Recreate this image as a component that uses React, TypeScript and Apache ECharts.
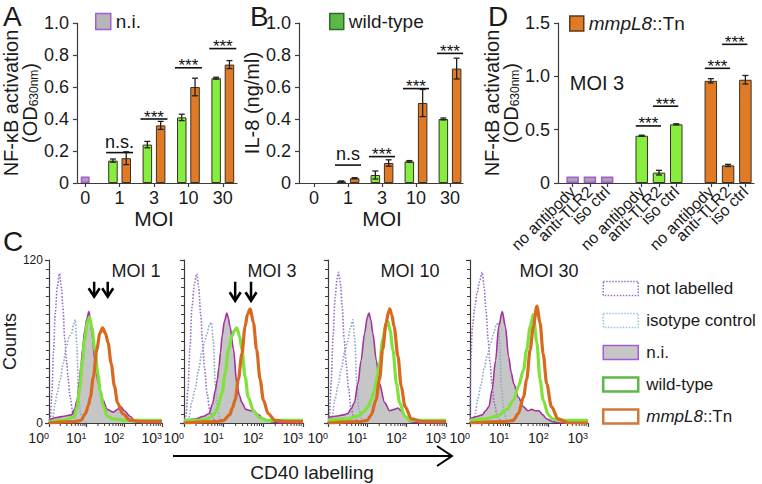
import { useEffect, useRef } from 'react';
import * as echarts from 'echarts';

const FONT = '"Liberation Sans", Arial, Helvetica, sans-serif';
const TXT = '#1a1a1a';
const AX = '#3c3c3c';

// ---------- Panel A / B categories ----------
const MOI_CATS = ['0', '1', '3', '10', '30'];

// Panel A: NF-kB activation (OD630nm)
const NI_A = [0.04, null, null, null, null];
const WT_A = [null, 0.14, 0.24, 0.41, 0.655];
const WT_A_ERR = [null, 0.01, 0.02, 0.02, 0.006];
const MUT_A = [null, 0.155, 0.36, 0.6, 0.74];
const MUT_A_ERR = [null, 0.04, 0.025, 0.055, 0.025];
const SIG_A_CAT = [1, 2, 3, 4];
const SIG_A_Y = [0.19, 0.4, 0.72, 0.84];
const SIG_A_LABEL = ['n.s.', '***', '***', '***'];

// Panel B: IL-8 (ng/ml)
const NI_B = [0, null, null, null, null];
const WT_B = [null, 0.01, 0.05, 0.135, 0.4];
const WT_B_ERR = [null, 0.003, 0.025, 0.005, 0.006];
const MUT_B = [null, 0.03, 0.125, 0.5, 0.715];
const MUT_B_ERR = [null, 0.003, 0.02, 0.085, 0.065];
const SIG_B_CAT = [1, 2, 3, 4];
const SIG_B_Y = [0.112, 0.165, 0.59, 0.81];
const SIG_B_LABEL = ['n.s', '***', '***', '***'];

// Panel D: MOI 3 with antibodies
const D_CATS = ['no antibody', 'anti-TLR2', 'iso ctrl', '', 'no antibody', 'anti-TLR2', 'iso ctrl', '', 'no antibody', 'anti-TLR2', 'iso ctrl'];
const NI_D = [0.06, 0.06, 0.06, null, null, null, null, null, null, null, null];
const WT_D = [null, null, null, null, 0.443, 0.097, 0.55, null, null, null, null];
const WT_D_ERR = [null, null, null, null, 0.005, 0.022, 0.005, null, null, null, null];
const MUT_D = [null, null, null, null, null, null, null, null, 0.958, 0.165, 0.968];
const MUT_D_ERR = [null, null, null, null, null, null, null, null, 0.02, 0.01, 0.04];
const SIG_D_FROM = [4, 5, 8, 9];
const SIG_D_TO = [5, 6, 9, 10];
const SIG_D_Y = [0.535, 0.72, 1.075, 1.3];
const SIG_D_LABEL = ['***', '***', '***', '***'];

// ---------- Panel C histograms: [log10(CD40), counts] ----------
const NOT_LAB_1 = [[0, 0], [0.04, 4], [0.08, 22], [0.12, 52], [0.17, 82], [0.22, 100], [0.28, 110], [0.33, 100], [0.37, 86], [0.42, 62], [0.47, 45], [0.51, 33], [0.56, 19], [0.64, 7], [0.72, 2], [0.85, 0]];
const ISO_1 = [[0.05, 0], [0.1, 3], [0.16, 14], [0.22, 22], [0.3, 32], [0.38, 44], [0.46, 56], [0.54, 64], [0.6, 66], [0.65, 72], [0.7, 76], [0.74, 58], [0.78, 25], [0.83, 8], [0.9, 2], [1.0, 0]];
const NI_H1 = [[0, 2], [0.2, 4], [0.4, 5], [0.6, 6], [0.68, 10], [0.75, 17], [0.8, 29], [0.85, 42], [0.89, 54], [0.95, 68], [1.0, 76], [1.06, 82], [1.1, 76], [1.14, 66], [1.22, 46], [1.31, 29], [1.43, 17], [1.55, 10], [1.7, 8], [1.82, 10], [1.91, 12], [2.0, 9], [2.15, 5], [2.3, 1], [2.5, 0], [3, 0]];
const WT_H1 = [[0, 1], [0.4, 2], [0.6, 4], [0.68, 5], [0.75, 12], [0.82, 26], [0.89, 46], [0.95, 62], [1.02, 74], [1.08, 78], [1.14, 70], [1.22, 54], [1.3, 36], [1.36, 24], [1.45, 12], [1.55, 5], [1.7, 3], [2.0, 2], [3.0, 2]];
const MUT_H1 = [[0, 0], [0.7, 1], [0.85, 2], [0.97, 7], [1.05, 13], [1.1, 19], [1.18, 34], [1.27, 54], [1.35, 66], [1.425, 70], [1.5, 66], [1.57, 59], [1.65, 44], [1.74, 27], [1.82, 15], [1.95, 7], [2.16, 2], [2.5, 1], [3, 1]];

const NOT_LAB_2 = [[0, 0], [0.05, 5], [0.1, 25], [0.15, 55], [0.2, 85], [0.26, 102], [0.32, 110], [0.37, 100], [0.42, 80], [0.47, 58], [0.52, 40], [0.58, 22], [0.65, 9], [0.73, 3], [0.85, 0]];
const ISO_2 = [[0.05, 0], [0.12, 4], [0.2, 16], [0.28, 25], [0.36, 38], [0.45, 52], [0.52, 60], [0.58, 66], [0.64, 72], [0.69, 74], [0.74, 60], [0.79, 28], [0.85, 9], [0.92, 2], [1.0, 0]];
const NI_H2 = [[0, 2], [0.3, 3], [0.5, 5], [0.63, 7], [0.72, 14], [0.79, 24], [0.84, 32], [0.88, 41], [0.92, 52], [0.96, 64], [1.02, 75], [1.08, 81], [1.12, 77], [1.16, 71], [1.25, 54], [1.33, 29], [1.4, 20], [1.46, 15], [1.56, 10], [1.68, 9], [1.75, 9], [1.88, 6], [2.0, 3], [2.2, 1], [2.4, 0], [3, 0]];
const WT_H2 = [[0, 2], [0.4, 2], [0.6, 3], [0.75, 6], [0.83, 10], [0.96, 22], [1.04, 37], [1.12, 54], [1.21, 64], [1.27, 68], [1.33, 70], [1.4, 64], [1.46, 54], [1.54, 34], [1.62, 19], [1.75, 9], [1.9, 4], [2.1, 2], [3, 2]];
const MUT_H2 = [[0, 0], [0.8, 1], [1.0, 2], [1.15, 6], [1.22, 11], [1.29, 17], [1.37, 32], [1.46, 51], [1.54, 71], [1.6, 80], [1.67, 84], [1.75, 74], [1.83, 54], [1.92, 32], [2.0, 17], [2.12, 7], [2.29, 2], [2.6, 1], [3, 1]];

const NOT_LAB_3 = [[0, 0], [0.04, 6], [0.08, 30], [0.13, 65], [0.18, 92], [0.23, 106], [0.27, 111], [0.32, 102], [0.36, 86], [0.41, 62], [0.46, 44], [0.52, 26], [0.58, 12], [0.66, 4], [0.78, 0]];
const ISO_3 = [[0.05, 0], [0.1, 4], [0.18, 18], [0.26, 28], [0.34, 40], [0.42, 52], [0.5, 60], [0.57, 70], [0.63, 76], [0.68, 62], [0.73, 30], [0.79, 10], [0.86, 3], [0.95, 0]];
const NI_H3 = [[0, 4], [0.2, 5], [0.4, 6], [0.5, 7], [0.6, 11], [0.67, 15], [0.76, 29], [0.84, 46], [0.93, 66], [1.0, 78], [1.04, 81], [1.09, 76], [1.14, 66], [1.23, 46], [1.31, 29], [1.44, 15], [1.57, 9], [1.68, 10], [1.78, 11], [1.86, 9], [1.95, 5], [2.1, 1], [2.3, 0], [3, 0]];
const WT_H3 = [[0, 2], [0.5, 3], [0.76, 5], [0.9, 8], [1.02, 12], [1.1, 17], [1.18, 24], [1.25, 34], [1.31, 44], [1.39, 61], [1.46, 71], [1.52, 75], [1.58, 68], [1.65, 54], [1.74, 29], [1.82, 15], [1.95, 5], [2.1, 2], [3, 2]];
const MUT_H3 = [[0, 0], [0.8, 1], [1.0, 2], [1.1, 6], [1.22, 17], [1.31, 32], [1.39, 54], [1.48, 74], [1.54, 82], [1.57, 84], [1.62, 80], [1.68, 71], [1.78, 49], [1.86, 27], [1.96, 12], [2.12, 3], [2.4, 1], [3, 1]];

const NOT_LAB_4 = [[0, 0], [0.02, 45], [0.06, 70], [0.12, 85], [0.18, 96], [0.24, 104], [0.31, 111], [0.36, 100], [0.41, 82], [0.46, 62], [0.51, 44], [0.56, 28], [0.62, 14], [0.7, 4], [0.8, 0]];
const ISO_4 = [[0.05, 0], [0.12, 5], [0.2, 18], [0.28, 28], [0.36, 40], [0.44, 50], [0.52, 58], [0.6, 66], [0.67, 72], [0.72, 74], [0.76, 56], [0.8, 26], [0.86, 8], [0.94, 2], [1.0, 0]];
const NI_H4 = [[0, 3], [0.2, 5], [0.31, 6], [0.4, 9], [0.48, 12], [0.56, 24], [0.65, 46], [0.73, 71], [0.82, 82], [0.9, 71], [0.98, 49], [1.05, 37], [1.11, 29], [1.23, 19], [1.36, 12], [1.47, 9], [1.57, 10], [1.66, 9], [1.75, 9], [1.85, 6], [1.95, 3], [2.1, 1], [2.3, 0], [3, 0]];
const WT_H4 = [[0, 2], [0.4, 3], [0.69, 5], [0.94, 10], [1.11, 17], [1.23, 27], [1.36, 39], [1.44, 54], [1.53, 71], [1.61, 80], [1.7, 59], [1.78, 32], [1.86, 17], [1.99, 6], [2.1, 3], [2.3, 2], [3, 2]];
const MUT_H4 = [[0, 0], [0.9, 1], [1.1, 2], [1.23, 7], [1.36, 19], [1.44, 32], [1.53, 54], [1.61, 71], [1.7, 86], [1.78, 74], [1.86, 51], [1.95, 29], [2.07, 12], [2.24, 3], [2.5, 0], [3, 0]];

// peak arrows: [log10 x, top count, tip count]
const ARROWS_P1 = [[1.2, 104, 93], [1.56, 104, 93]];
const ARROWS_P2 = [[1.29, 104, 90], [1.69, 104, 90]];

const MOI_PANEL_LABELS = ['MOI 1', 'MOI 3', 'MOI 10', 'MOI 30'];
const LOG_MINOR_TICKS = [2, 3, 4, 5, 6, 7, 8, 9, 20, 30, 40, 50, 60, 70, 80, 90, 200, 300, 400, 500, 600, 700, 800, 900];

// ---------- styles ----------
const GREEN = '#86ee3e';
const ORANGE = '#e07a24';
const GRAY_BAR = '#a6a6a6';
const PURPLE = '#a75ad8';
const BAR_BORDER = '#3a3224';

const BW = 9.5;
const BGAP = 0.4;
const PAIR_OFF = (BW * (1 + BGAP)) / 2;

const toXY = (arr: number[][]) => arr.map(([e, c]) => [Math.pow(10, e), c]);

const errData = (vals: (number | null)[], errs: (number | null)[]) =>
  vals.map((v, i) => (v == null || errs[i] == null ? null : [i, v, errs[i]])).filter((d) => d !== null);

const errSeries = (xi: number, yi: number, vals: (number | null)[], errs: (number | null)[], offset: number) => ({
  type: 'custom',
  xAxisIndex: xi,
  yAxisIndex: yi,
  silent: true,
  z: 5,
  data: errData(vals, errs),
  renderItem: (_p: any, api: any) => {
    const cat = api.value(0);
    const mean = api.value(1);
    const err = api.value(2);
    const top = api.coord([cat, mean + err]);
    const bot = api.coord([cat, mean - err]);
    const x = top[0] + offset;
    const st = { stroke: '#202020', lineWidth: 1.3 };
    const cap = 3;
    return {
      type: 'group',
      children: [
        { type: 'line', shape: { x1: x, y1: top[1], x2: x, y2: bot[1] }, style: st },
        { type: 'line', shape: { x1: x - cap, y1: top[1], x2: x + cap, y2: top[1] }, style: st },
        { type: 'line', shape: { x1: x - cap, y1: bot[1], x2: x + cap, y2: bot[1] }, style: st },
      ],
    };
  },
});

const sigSeries = (xi: number, yi: number, from: number[], to: number[], ys: number[], labels: string[], padL: number, padR: number) => ({
  type: 'custom',
  xAxisIndex: xi,
  yAxisIndex: yi,
  silent: true,
  z: 6,
  data: from.map((f, i) => [f, to[i], ys[i]]),
  renderItem: (params: any, api: any) => {
    const a = api.coord([api.value(0), api.value(2)]);
    const b = api.coord([api.value(1), api.value(2)]);
    const lab = labels[params.dataIndex];
    const star = lab === '***';
    const x1 = a[0] - padL;
    const x2 = b[0] + padR;
    return {
      type: 'group',
      children: [
        { type: 'line', shape: { x1, y1: a[1], x2, y2: a[1] }, style: { stroke: '#111', lineWidth: 1.6 } },
        {
          type: 'text',
          x: (x1 + x2) / 2,
          y: a[1] - (star ? 2 : 11),
          style: { text: lab, fill: '#111', fontSize: star ? 17 : 18, fontFamily: FONT, align: 'center', verticalAlign: 'middle' },
        },
      ],
    };
  },
});

const rich2Line = {
  fontSize: 20,
  lineHeight: 19,
  color: TXT,
  fontFamily: FONT,
  rich: {
    p: { fontSize: 20, lineHeight: 19, color: TXT, fontFamily: FONT },
    s: { fontSize: 12, lineHeight: 12, verticalAlign: 'bottom', color: TXT, fontFamily: FONT },
  },
};

const valueY = (gi: number, max: number, interval: number, name: string, nameGap: number, nameStyle: any) => ({
  type: 'value',
  gridIndex: gi,
  min: 0,
  max,
  interval,
  axisLine: { show: true, lineStyle: { color: AX, width: 1.2 } },
  axisTick: { show: true, length: 4, lineStyle: { color: AX, width: 1.2 } },
  axisLabel: { fontSize: 18, color: TXT, fontFamily: FONT, margin: 8, formatter: (v: number) => (v === 0 ? '0' : v.toFixed(1)) },
  splitLine: { show: false },
  name,
  nameLocation: 'middle',
  nameRotate: 90,
  nameGap,
  nameTextStyle: nameStyle,
});

const hiddenY = (gi: number, max: number) => ({ type: 'value', gridIndex: gi, min: 0, max, show: false, splitLine: { show: false } });

const baseX = (gi: number) => ({
  type: 'value',
  gridIndex: gi,
  min: 0,
  max: 1,
  axisLine: { show: true, onZero: false, lineStyle: { color: AX, width: 1.2 } },
  axisTick: { show: false },
  axisLabel: { show: false },
  splitLine: { show: false },
});

const moiX = (gi: number) => ({
  type: 'category',
  gridIndex: gi,
  data: MOI_CATS,
  axisLine: { show: false },
  axisTick: { show: true, alignWithLabel: true, length: 4, lineStyle: { color: AX, width: 1.2 } },
  axisLabel: { fontSize: 18, color: TXT, fontFamily: FONT, margin: 6 },
  name: 'MOI',
  nameLocation: 'middle',
  nameGap: 18,
  nameTextStyle: { fontSize: 21, color: TXT, fontFamily: FONT },
});

const hiddenCatX = (gi: number, data: string[]) => ({ type: 'category', gridIndex: gi, data, show: false });

const HIST_GRIDS = [
  { left: 45, top: 260, width: 117, height: 163 },
  { left: 184, top: 260, width: 119, height: 163 },
  { left: 328, top: 260, width: 118, height: 163 },
  { left: 470, top: 260, width: 118, height: 163 },
];

const HIST_DATA = [
  [NOT_LAB_1, ISO_1, NI_H1, WT_H1, MUT_H1],
  [NOT_LAB_2, ISO_2, NI_H2, WT_H2, MUT_H2],
  [NOT_LAB_3, ISO_3, NI_H3, WT_H3, MUT_H3],
  [NOT_LAB_4, ISO_4, NI_H4, WT_H4, MUT_H4],
];
const HIST_ARROWS = [ARROWS_P1, ARROWS_P2, [], []];

const arrowSeries = (xi: number, yi: number, arr: number[][]) => ({
  type: 'custom',
  xAxisIndex: xi,
  yAxisIndex: yi,
  silent: true,
  z: 10,
  clip: false,
  data: arr.map(([e, t, b]) => [Math.pow(10, e), t, b]),
  renderItem: (_p: any, api: any) => {
    const top = api.coord([api.value(0), api.value(1)]);
    const tip = api.coord([api.value(0), api.value(2)]);
    const x = top[0];
    return {
      type: 'group',
      children: [
        { type: 'line', shape: { x1: x, y1: top[1], x2: x, y2: tip[1] - 1 }, style: { stroke: '#000', lineWidth: 2.5 } },
        { type: 'polyline', shape: { points: [[x - 5.5, tip[1] - 8.5], [x, tip[1]], [x + 5.5, tip[1] - 8.5]] }, style: { stroke: '#000', lineWidth: 2.6, fill: null } },
      ],
    };
  },
});

const minorTickSeries = (xi: number, yi: number) => ({
  type: 'custom',
  xAxisIndex: xi,
  yAxisIndex: yi,
  silent: true,
  clip: false,
  data: LOG_MINOR_TICKS.map((v) => [v, 0]),
  renderItem: (_p: any, api: any) => {
    const p = api.coord([api.value(0), 0]);
    return { type: 'line', shape: { x1: p[0], y1: p[1], x2: p[0], y2: p[1] + 3 }, style: { stroke: AX, lineWidth: 1 } };
  },
});

function buildOption() {
  const grid: any[] = [
    { left: 76, top: 23, width: 161, height: 160 },
    { left: 68, top: 23, width: 172, height: 160 },
    { left: 299, top: 23, width: 164, height: 160 },
    { left: 297, top: 23, width: 170, height: 160 },
    { left: 558, top: 23, width: 196, height: 160 },
    { left: 564, top: 23, width: 190, height: 160 },
    ...HIST_GRIDS,
  ];

  const xAxis: any[] = [
    baseX(0), // 0
    moiX(1), // 1
    hiddenCatX(1, MOI_CATS), // 2
    baseX(2), // 3
    moiX(3), // 4
    hiddenCatX(3, MOI_CATS), // 5
    baseX(4), // 6
    {
      // 7
      type: 'category',
      gridIndex: 5,
      data: D_CATS,
      axisLine: { show: false },
      axisTick: { show: true, alignWithLabel: true, length: 4, interval: (_i: number, v: string) => v !== '', lineStyle: { color: AX, width: 1.2 } },
      axisLabel: { interval: 0, rotate: 45, fontSize: 16, color: TXT, fontFamily: FONT, margin: 6 },
    },
  ];
  const yAxis: any[] = [
    valueY(0, 1, 0.2, 'NF-κB activation\n{p|(OD}{s|630nm}{p|)}', 33, rich2Line),
    hiddenY(1, 1),
    valueY(2, 1, 0.2, 'IL-8 (ng/ml)', 29, { fontSize: 20, color: TXT, fontFamily: FONT }),
    hiddenY(3, 1),
    valueY(4, 1.5, 0.5, 'NF-κB activation\n{p|(OD}{s|630nm}{p|)}', 26, rich2Line),
    hiddenY(5, 1.5),
  ];

  HIST_GRIDS.forEach((_g, k) => {
    xAxis.push({
      type: 'log',
      logBase: 10,
      gridIndex: 6 + k,
      min: 1,
      max: 1000,
      axisLine: { show: true, lineStyle: { color: AX, width: 1.2 } },
      axisTick: { show: true, length: 4, lineStyle: { color: AX, width: 1.2 } },
      splitLine: { show: false },
      axisLabel: {
        align: 'right',
        margin: 8,
        color: TXT,
        fontFamily: FONT,
        fontSize: 14,
        formatter: (v: number) => '10{s|' + Math.round(Math.log10(v)) + '}',
        rich: { s: { fontSize: 9, lineHeight: 9, verticalAlign: 'top', color: TXT, fontFamily: FONT } },
      },
    });
    yAxis.push({
      type: 'value',
      gridIndex: 6 + k,
      min: 0,
      max: 120,
      interval: 120,
      axisLine: { show: true, lineStyle: { color: AX, width: 1.2 } },
      axisTick: { show: true, length: 4, lineStyle: { color: AX, width: 1.2 } },
      minorTick: { show: true, splitNumber: 18, length: 3, lineStyle: { color: AX, width: 1 } },
      splitLine: { show: false },
      axisLabel: { show: k === 0, fontSize: 12, color: TXT, fontFamily: FONT, margin: 6 },
      ...(k === 0
        ? { name: 'Counts', nameLocation: 'middle', nameRotate: 90, nameGap: 17, nameTextStyle: { fontSize: 18, color: TXT, fontFamily: FONT } }
        : {}),
    });
  });

  const niStyle = { color: GRAY_BAR, borderColor: PURPLE, borderWidth: 1.5 };
  const wtStyle = { color: GREEN, borderColor: BAR_BORDER, borderWidth: 1 };
  const mutStyle = { color: ORANGE, borderColor: BAR_BORDER, borderWidth: 1 };

  const series: any[] = [
    // Panel A
    { name: 'n.i.', type: 'bar', xAxisIndex: 2, yAxisIndex: 1, data: NI_A, barWidth: 9, itemStyle: niStyle },
    { name: 'wild-type', type: 'bar', xAxisIndex: 1, yAxisIndex: 1, data: WT_A, barWidth: BW, barGap: BGAP * 100 + '%', itemStyle: wtStyle },
    { name: 'mmpL8::Tn', type: 'bar', xAxisIndex: 1, yAxisIndex: 1, data: MUT_A, barWidth: BW, barGap: BGAP * 100 + '%', itemStyle: mutStyle },
    errSeries(1, 1, WT_A, WT_A_ERR, -PAIR_OFF),
    errSeries(1, 1, MUT_A, MUT_A_ERR, PAIR_OFF),
    sigSeries(1, 1, SIG_A_CAT, SIG_A_CAT, SIG_A_Y, SIG_A_LABEL, 13.5, 13.5),
    // Panel B
    { name: 'n.i.', type: 'bar', xAxisIndex: 5, yAxisIndex: 3, data: NI_B, barWidth: 9, itemStyle: { ...niStyle, borderWidth: 0 } },
    { name: 'wild-type', type: 'bar', xAxisIndex: 4, yAxisIndex: 3, data: WT_B, barWidth: BW, barGap: BGAP * 100 + '%', itemStyle: wtStyle },
    { name: 'mmpL8::Tn', type: 'bar', xAxisIndex: 4, yAxisIndex: 3, data: MUT_B, barWidth: BW, barGap: BGAP * 100 + '%', itemStyle: mutStyle },
    errSeries(4, 3, WT_B, WT_B_ERR, -PAIR_OFF),
    errSeries(4, 3, MUT_B, MUT_B_ERR, PAIR_OFF),
    sigSeries(4, 3, SIG_B_CAT, SIG_B_CAT, SIG_B_Y, SIG_B_LABEL, 13, 13),
    // Panel D
    { name: 'n.i.', type: 'bar', stack: 'd', xAxisIndex: 7, yAxisIndex: 5, data: NI_D, barWidth: 12.5, itemStyle: niStyle },
    { name: 'wild-type', type: 'bar', stack: 'd', xAxisIndex: 7, yAxisIndex: 5, data: WT_D, barWidth: 12.5, itemStyle: wtStyle },
    { name: 'mmpL8::Tn', type: 'bar', stack: 'd', xAxisIndex: 7, yAxisIndex: 5, data: MUT_D, barWidth: 12.5, itemStyle: mutStyle },
    errSeries(7, 5, WT_D, WT_D_ERR, 0),
    errSeries(7, 5, MUT_D, MUT_D_ERR, 0),
    sigSeries(7, 5, SIG_D_FROM, SIG_D_TO, SIG_D_Y, SIG_D_LABEL, 6, 2),
  ];

  HIST_DATA.forEach((set, k) => {
    const xi = 8 + k;
    const yi = 6 + k;
    const common = { type: 'line', xAxisIndex: xi, yAxisIndex: yi, showSymbol: false, smooth: 0.3, smoothMonotone: 'x', silent: true };
    series.push({ ...common, name: 'not labelled', data: toXY(set[0]), lineStyle: { color: '#9a6fc8', width: 1.6, type: 'dotted' }, itemStyle: { color: '#9a6fc8' } });
    series.push({ ...common, name: 'isotype control', data: toXY(set[1]), lineStyle: { color: '#8fa9c4', width: 1.6, type: 'dotted' }, itemStyle: { color: '#8fa9c4' } });
    series.push({ ...common, name: 'n.i.', data: toXY(set[2]), lineStyle: { color: '#a2339e', width: 1.6 }, areaStyle: { color: '#c6c6c6', opacity: 1 }, itemStyle: { color: '#a2339e' } });
    series.push({ ...common, name: 'wild-type', data: toXY(set[3]), lineStyle: { color: '#7fe23c', width: 3.2 }, itemStyle: { color: '#7fe23c' } });
    series.push({ ...common, name: 'mmpL8::Tn', data: toXY(set[4]), lineStyle: { color: '#d8691f', width: 3.2 }, itemStyle: { color: '#d8691f' } });
    series.push(minorTickSeries(xi, yi));
    if (HIST_ARROWS[k].length) series.push(arrowSeries(xi, yi, HIST_ARROWS[k]));
  });

  const legendText = {
    color: TXT,
    fontFamily: FONT,
    fontSize: 19,
    rich: { i: { fontStyle: 'italic', fontSize: 19, color: TXT, fontFamily: FONT } },
  };
  const fmt = (n: string) => (n === 'mmpL8::Tn' ? '{i|mmpL8}::Tn' : n);

  const legend: any[] = [
    {
      left: 90, top: 7, itemWidth: 15, itemHeight: 16, selectedMode: false, textStyle: legendText, formatter: fmt,
      data: [{ name: 'n.i.', icon: 'rect', itemStyle: { color: '#b6b6b6', borderColor: PURPLE, borderWidth: 1.5 } }],
    },
    {
      left: 324, top: 7, itemWidth: 14, itemHeight: 16, selectedMode: false, textStyle: legendText, formatter: fmt,
      data: [{ name: 'wild-type', icon: 'rect', itemStyle: { color: '#5cb848', borderColor: '#2c6b28', borderWidth: 1.5 } }],
    },
    {
      left: 564, top: 9, itemWidth: 14, itemHeight: 15, selectedMode: false, textStyle: legendText, formatter: fmt,
      data: [{ name: 'mmpL8::Tn', icon: 'rect', itemStyle: { color: ORANGE, borderColor: '#5a3a1a', borderWidth: 1.5 } }],
    },
    {
      left: 597, top: 275, orient: 'vertical', itemWidth: 35, itemHeight: 14, itemGap: 15, selectedMode: false, formatter: fmt,
      textStyle: { color: TXT, fontFamily: FONT, fontSize: 17, padding: [0, 0, 0, 3], rich: { i: { fontStyle: 'italic', fontSize: 17, color: TXT, fontFamily: FONT } } },
      data: [
        { name: 'not labelled', icon: 'rect', itemStyle: { color: '#ffffff', borderColor: '#9a6fc8', borderWidth: 1.5, borderType: 'dotted' } },
        { name: 'isotype control', icon: 'rect', itemStyle: { color: '#ffffff', borderColor: '#8ec8e0', borderWidth: 1.5, borderType: 'dotted' } },
        { name: 'n.i.', icon: 'rect', itemStyle: { color: '#c6c6c6', borderColor: PURPLE, borderWidth: 1.5 } },
        { name: 'wild-type', icon: 'rect', itemStyle: { color: '#ffffff', borderColor: '#5cb848', borderWidth: 2.5 } },
        { name: 'mmpL8::Tn', icon: 'rect', itemStyle: { color: '#ffffff', borderColor: '#d0773a', borderWidth: 2.5 } },
      ],
    },
  ];

  const letter = (t: string, x: number, y: number) => ({
    type: 'text', x, y, silent: true,
    style: { text: t, fill: TXT, fontSize: 28, fontFamily: FONT, align: 'left', verticalAlign: 'middle' },
  });
  const label = (t: string, x: number, y: number, size: number) => ({
    type: 'text', x, y, silent: true,
    style: { text: t, fill: TXT, fontSize: size, fontFamily: FONT, align: 'center', verticalAlign: 'middle' },
  });
  const moiCenters = [136, 272, 410, 549];

  const graphic: any[] = [
    letter('A', 3, 16),
    letter('B', 250, 16),
    letter('D', 488, 16),
    letter('C', 3, 241),
    label('MOI 3', 597, 83, 20),
    ...MOI_PANEL_LABELS.map((t, i) => label(t, moiCenters[i], 271, 18)),
    { type: 'line', silent: true, shape: { x1: 173, y1: 456, x2: 451, y2: 456 }, style: { stroke: '#000', lineWidth: 2 } },
    { type: 'polyline', silent: true, shape: { points: [[437, 446], [452, 456], [437, 466]] }, style: { stroke: '#000', lineWidth: 2, fill: null } },
    label('CD40 labelling', 312, 472, 19),
  ];

  return {
    backgroundColor: '#ffffff',
    animation: false,
    textStyle: { fontFamily: FONT },
    grid,
    xAxis,
    yAxis,
    legend,
    series,
    graphic,
  };
}

export default function App() {
  const ref = useRef<HTMLDivElement>(null);
  useEffect(() => {
    if (!ref.current) return;
    const chart = echarts.init(ref.current, null, { renderer: 'svg' });
    chart.setOption(buildOption() as any);
    return () => chart.dispose();
  }, []);
  return <div ref={ref} style={{ position: 'absolute', left: 0, top: 0, width: 762, height: 484 }} />;
}
